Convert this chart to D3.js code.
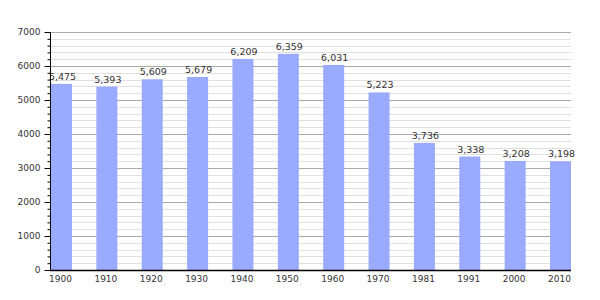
<!DOCTYPE html>
<html><head><meta charset="utf-8">
<script src="https://cdn.jsdelivr.net/npm/d3@7"></script>
<style>body{margin:0;background:#fff}svg{display:block}text{font-family:"DejaVu Sans",Verdana,sans-serif}</style>
</head><body><svg width="600" height="300"></svg>
<script>
const years = ["1900","1910","1920","1930","1940","1950","1960","1970","1981","1991","2000","2010"];
const population = [5475,5393,5609,5679,6209,6359,6031,5223,3736,3338,3208,3198];
const yTicks = [0,1000,2000,3000,4000,5000,6000,7000];

const svg = d3.select("svg");
const L = 50, R = 571, T = 32, B = 270;
const x = d3.scaleBand().domain(years).range([L+1, R]).paddingInner(0.537).paddingOuter(0);
const y = d3.scaleLinear().domain([0,7000]).range([B, T]);
const minor = d3.range(0, 7001, 200);

// grid
svg.append("g").selectAll("line").data(minor.filter(v => v % 1000 !== 0)).join("line")
  .attr("x1", L).attr("x2", R).attr("y1", d => Math.round(y(d))+0.5).attr("y2", d => Math.round(y(d))+0.5)
  .attr("stroke", "#e0e0e0").attr("stroke-width", 1);
svg.append("g").selectAll("line").data(yTicks.filter(v => v > 0)).join("line")
  .attr("x1", L).attr("x2", R).attr("y1", d => Math.round(y(d))+0.5).attr("y2", d => Math.round(y(d))+0.5)
  .attr("stroke", "#aaaaaa").attr("stroke-width", 1);

// bars
svg.append("g").selectAll("rect").data(population).join("rect")
  .attr("x", (d,i) => x(years[i])).attr("width", x.bandwidth())
  .attr("y", d => y(d)).attr("height", d => B - y(d))
  .attr("fill", "#99aaff");

// value labels
const fmt = d3.format(",");
svg.append("g").selectAll("text").data(population).join("text")
  .attr("x", (d,i) => x(years[i]) + x.bandwidth()/2 + 1).attr("y", d => y(d) - 4)
  .attr("text-anchor", "middle").attr("font-size", 9.5).attr("fill", "#333")
  .text(d => fmt(d));

// y axis
const ya = d3.axisLeft(y).tickValues(yTicks).tickSize(6).tickFormat(d3.format("d"));
const gy = svg.append("g").attr("transform", `translate(${L+0.5},0)`).call(ya);
gy.select(".domain").remove();
gy.selectAll("text").attr("font-size", 9).attr("fill", "#333").attr("dx", -1);
gy.selectAll("line").attr("stroke", "#000");
const ym = d3.axisLeft(y).tickValues(minor.filter(v => v % 1000 !== 0)).tickSize(3).tickFormat("");
const gym = svg.append("g").attr("transform", `translate(${L+0.5},0)`).call(ym);
gym.select(".domain").remove();
gym.selectAll("line").attr("stroke", "#000");
svg.append("line").attr("x1", L+0.5).attr("x2", L+0.5).attr("y1", T).attr("y2", B+1).attr("stroke", "#000");

// x axis
svg.append("line").attr("x1", L).attr("x2", R).attr("y1", B+0.5).attr("y2", B+0.5).attr("stroke", "#000").attr("stroke-width", 1.5);
svg.append("g").selectAll("text").data(years).join("text")
  .attr("x", d => x(d) + x.bandwidth()/2 - 1).attr("y", B + 12)
  .attr("text-anchor", "middle").attr("font-size", 9).attr("fill", "#333")
  .text(d => d);
</script></body></html>
